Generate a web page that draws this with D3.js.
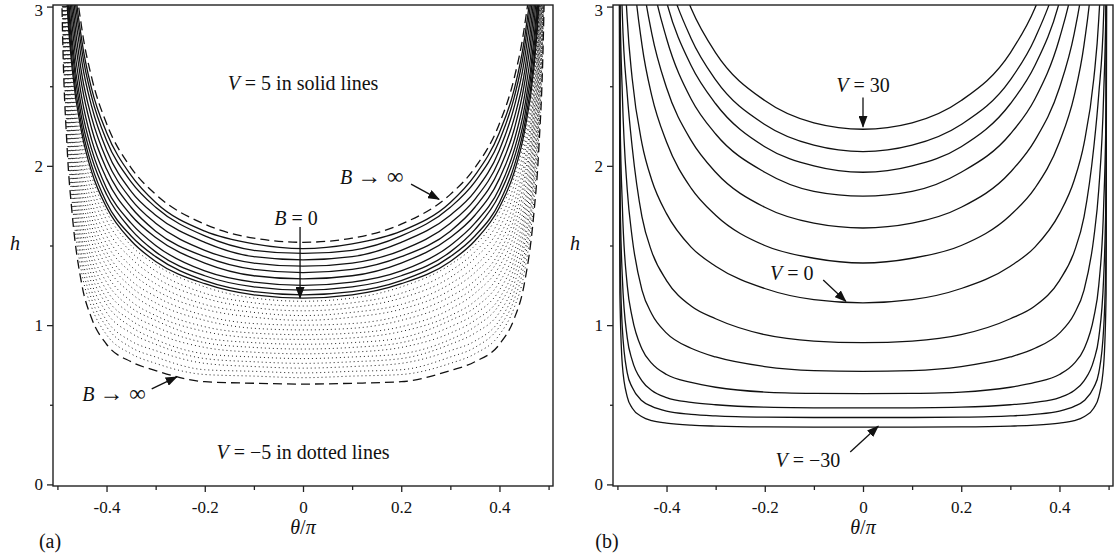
<!DOCTYPE html>
<html>
<head>
<meta charset="utf-8">
<script src="https://cdn.jsdelivr.net/npm/d3@7"></script>
<style>
  body { margin: 0; background: #fff; }
  svg text { fill: #111; }
</style>
</head>
<body>
<svg id="chart" width="1120" height="560"></svg>
<script>
// half grid in theta/pi, curves are symmetric about 0
const THETA = [0, 0.1, 0.2, 0.3, 0.35, 0.4, 0.43, 0.45, 0.47, 0.48, 0.49, 0.495, 0.5]

// (a) V = 5, B -> infinity (dashed)
const A_DASHED_UP = [1.52, 1.546, 1.634, 1.821, 1.988, 2.266, 2.551, 2.856, 3.396, 3.9, 4.93, 6.24, 8]
// (a) V = 5, solid lines
const A_SOLID = [
  [1.48, 1.51, 1.59, 1.77, 1.94, 2.21, 2.48, 2.78, 3.31, 3.79, 4.80, 6.08, 8],
  [1.45, 1.47, 1.56, 1.74, 1.90, 2.16, 2.43, 2.72, 3.24, 3.72, 4.70, 5.95, 8],
  [1.41, 1.43, 1.52, 1.69, 1.84, 2.10, 2.37, 2.65, 3.15, 3.61, 4.57, 5.79, 8],
  [1.37, 1.39, 1.47, 1.64, 1.79, 2.04, 2.30, 2.57, 3.06, 3.51, 4.44, 5.63, 8],
  [1.33, 1.35, 1.43, 1.59, 1.74, 1.98, 2.23, 2.50, 2.97, 3.41, 4.31, 5.46, 8],
  [1.29, 1.31, 1.39, 1.55, 1.69, 1.92, 2.16, 2.42, 2.88, 3.31, 4.18, 5.30, 8],
  [1.25, 1.27, 1.34, 1.50, 1.64, 1.86, 2.10, 2.35, 2.79, 3.20, 4.06, 5.13, 8],
  [1.22, 1.24, 1.31, 1.46, 1.60, 1.82, 2.05, 2.29, 2.73, 3.13, 3.96, 5.01, 8],
  [1.19, 1.21, 1.28, 1.43, 1.56, 1.77, 2.00, 2.24, 2.66, 3.05, 3.86, 4.89, 8],
  [1.17, 1.19, 1.26, 1.40, 1.53, 1.74, 1.96, 2.20, 2.61, 3.00, 3.80, 4.80, 8]
]
// (a) V = -5, dotted lines
const A_DOTTED = [
  [1.15, 1.17, 1.24, 1.38, 1.50, 1.71, 1.93, 2.16, 2.57, 2.95, 3.73, 4.72, 8],
  [1.12, 1.14, 1.20, 1.34, 1.46, 1.66, 1.88, 2.11, 2.53, 2.92, 3.72, 4.72, 8],
  [1.09, 1.11, 1.17, 1.30, 1.42, 1.61, 1.83, 2.06, 2.49, 2.89, 3.71, 4.72, 8],
  [1.06, 1.08, 1.13, 1.26, 1.37, 1.56, 1.77, 2.01, 2.45, 2.86, 3.69, 4.71, 8],
  [1.03, 1.05, 1.10, 1.22, 1.33, 1.51, 1.72, 1.96, 2.41, 2.82, 3.67, 4.69, 8],
  [1.00, 1.01, 1.06, 1.18, 1.28, 1.46, 1.67, 1.91, 2.37, 2.79, 3.64, 4.66, 8],
  [0.97, 0.98, 1.03, 1.14, 1.24, 1.42, 1.62, 1.86, 2.32, 2.74, 3.60, 4.63, 8],
  [0.94, 0.95, 0.99, 1.10, 1.20, 1.37, 1.57, 1.81, 2.28, 2.70, 3.57, 4.59, 8],
  [0.91, 0.92, 0.96, 1.06, 1.15, 1.32, 1.52, 1.75, 2.23, 2.66, 3.52, 4.55, 8],
  [0.88, 0.89, 0.92, 1.03, 1.11, 1.27, 1.46, 1.70, 2.18, 2.61, 3.48, 4.49, 8],
  [0.85, 0.86, 0.89, 0.99, 1.07, 1.22, 1.41, 1.65, 2.13, 2.56, 3.42, 4.43, 8],
  [0.82, 0.83, 0.86, 0.95, 1.03, 1.17, 1.36, 1.60, 2.07, 2.50, 3.37, 4.37, 8],
  [0.79, 0.80, 0.82, 0.91, 0.99, 1.13, 1.31, 1.54, 2.02, 2.45, 3.31, 4.30, 8],
  [0.76, 0.77, 0.79, 0.88, 0.95, 1.08, 1.26, 1.49, 1.96, 2.39, 3.24, 4.22, 8],
  [0.73, 0.74, 0.76, 0.84, 0.90, 1.03, 1.21, 1.43, 1.91, 2.33, 3.17, 4.13, 8],
  [0.70, 0.71, 0.72, 0.80, 0.86, 0.99, 1.16, 1.38, 1.85, 2.26, 3.09, 4.04, 8],
  [0.67, 0.68, 0.69, 0.76, 0.82, 0.94, 1.11, 1.32, 1.78, 2.19, 3.01, 3.94, 8]
]
// (a) V = -5, B -> infinity (dashed)
const A_DASHED_LOW = [0.63, 0.635, 0.645, 0.715, 0.77, 0.88, 1.04, 1.25, 1.70, 2.10, 2.90, 3.80, 8]

// (b) V = 30, 25, ..., -30
const B_V = [30, 25, 20, 15, 10, 5, 0, -5, -10, -15, -20, -25, -30]
const B_CURVES = [
  [2.23, 2.27, 2.41, 2.71, 2.99, 3.44, 3.92, 4.43, 5.35, 6.2, 8, 10, 12],
  [2.09, 2.13, 2.26, 2.54, 2.80, 3.23, 3.67, 4.15, 5.01, 5.82, 7.52, 9.7, 12],
  [1.96, 2.00, 2.12, 2.39, 2.63, 3.03, 3.44, 3.89, 4.70, 5.46, 7.05, 9.1, 12],
  [1.81, 1.84, 1.96, 2.20, 2.42, 2.80, 3.18, 3.60, 4.34, 5.04, 6.51, 8.4, 12],
  [1.61, 1.64, 1.74, 1.96, 2.16, 2.49, 2.83, 3.20, 3.86, 4.48, 5.79, 7.5, 12],
  [1.39, 1.42, 1.50, 1.69, 1.86, 2.15, 2.44, 2.76, 3.33, 3.87, 5.00, 6.46, 12],
  [1.14, 1.16, 1.23, 1.37, 1.49, 1.70, 1.91, 2.14, 2.55, 2.92, 3.70, 4.68, 12],
  [0.89, 0.90, 0.94, 1.04, 1.12, 1.28, 1.46, 1.68, 2.12, 2.45, 2.95, 3.6, 12],
  [0.71, 0.715, 0.74, 0.80, 0.855, 0.95, 1.07, 1.22, 1.55, 1.85, 2.45, 3.1, 12],
  [0.57, 0.572, 0.58, 0.61, 0.64, 0.69, 0.76, 0.85, 1.05, 1.25, 1.75, 2.4, 12],
  [0.48, 0.481, 0.485, 0.50, 0.515, 0.545, 0.59, 0.65, 0.78, 0.92, 1.30, 1.9, 12],
  [0.42, 0.42, 0.422, 0.43, 0.44, 0.46, 0.49, 0.525, 0.61, 0.70, 0.98, 1.5, 12],
  [0.36, 0.36, 0.361, 0.366, 0.372, 0.385, 0.40, 0.425, 0.48, 0.55, 0.75, 1.2, 12]
]

const X_MAJOR = [-0.4, -0.2, 0, 0.2, 0.4]
const X_MINOR = [-0.5, -0.3, -0.1, 0.1, 0.3, 0.5]
const Y_MAJOR = [0, 1, 2, 3]
const Y_MINOR = [0.5, 1.5, 2.5]

// annotations, anchors in (theta/pi, h); parts are [text, italic, size]
const TO_INF = [['B', 1], [' ', 0], ['\u2192', 0, 24], [' \u221e', 0, 23]]
const A_NOTES = [
  {pos: [0, 2.52], parts: [['V', 1], [' = 5 in solid lines', 0]]},
  {pos: [0, 0.205], parts: [['V', 1], [' = \u22125 in dotted lines', 0]]},
  {pos: [0.14, 1.93], parts: TO_INF},
  {pos: [-0.014, 1.67], parts: [['B', 1], [' = 0', 0]]},
  {pos: [-0.385, 0.568], parts: TO_INF}
]
const A_ARROWS = [
  [[0.22, 1.885], [0.277, 1.79]],
  [[-0.006, 1.616], [-0.006, 1.17]],
  [[-0.308, 0.60], [-0.257, 0.675]]
]
const B_NOTES = [
  {pos: [0, 2.51], parts: [['V', 1], [' = 30', 0]]},
  {pos: [-0.145, 1.327], parts: [['V', 1], [' = 0', 0]]},
  {pos: [-0.112, 0.153], parts: [['V', 1], [' = \u221230', 0]]}
]
const B_ARROWS = [
  [[0, 2.43], [0, 2.245]],
  [[-0.081, 1.283], [-0.035, 1.15]],
  [[-0.026, 0.204], [0.031, 0.365]]
]

const svg = d3.select('#chart')
const TOP = 5
const BOTTOM = 486
const SERIF = 'Liberation Serif'

svg.append('defs').append('marker')
  .attr('id', 'head')
  .attr('markerUnits', 'userSpaceOnUse')
  .attr('markerWidth', 12).attr('markerHeight', 9)
  .attr('refX', 11).attr('refY', 4.5)
  .attr('orient', 'auto')
  .append('path').attr('d', 'M0,0 L12,4.5 L0,9 Z').attr('fill', '#111')

// mirror the half curve to the full range
function fullCurve(hs) {
  var pts = []
  for (var i = THETA.length - 1; i > 0; i--) pts.push([-THETA[i], hs[i]])
  THETA.forEach((t, i) => pts.push([t, hs[i]]))
  return pts
}

function label(sel, x, y, size) {
  return sel.append('text').attr('x', x).attr('y', y)
    .attr('text-anchor', 'middle').attr('font-family', SERIF).attr('font-size', size)
}

function panel(id, left, tag) {
  var right = left + 500
  var x = d3.scaleLinear().domain([-0.509, 0.509]).range([left, right])
  var y = d3.scaleLinear().domain([-0.01, 3.01]).range([BOTTOM, TOP])
  var g = svg.append('g')

  g.append('clipPath').attr('id', 'clip-' + id)
    .append('rect').attr('x', left).attr('y', TOP).attr('width', right - left).attr('height', BOTTOM - TOP)

  var plot = g.append('g').attr('clip-path', `url(#clip-${id})`)
  var line = d3.line().x(d => x(d[0])).y(d => y(d[1])).curve(d3.curveMonotoneX)

  // axes
  var xAxis = d3.axisBottom(x).tickValues(X_MAJOR).tickSize(6).tickSizeOuter(0).tickPadding(9)
    .tickFormat(d => d === 0 ? '0' : d3.format('.1f')(d).replace('\u2212', '-'))
  var xMinor = d3.axisBottom(x).tickValues(X_MINOR).tickSize(4).tickSizeOuter(0).tickFormat('')
  var yAxis = d3.axisLeft(y).tickValues(Y_MAJOR).tickSize(6).tickSizeOuter(0).tickPadding(4).tickFormat(d3.format('d'))
  var yMinor = d3.axisLeft(y).tickValues(Y_MINOR).tickSize(3).tickSizeOuter(0).tickFormat('')

  ;[[xAxis, `translate(0,${BOTTOM})`], [xMinor, `translate(0,${BOTTOM})`],
    [yAxis, `translate(${left},0)`], [yMinor, `translate(${left},0)`]].forEach(([ax, tr]) => {
    var a = g.append('g').attr('transform', tr).call(ax)
    a.attr('font-family', SERIF).attr('font-size', 17)
    a.selectAll('text').attr('fill', '#111')
    a.selectAll('line').attr('stroke', '#222').attr('stroke-width', 1.3)
    a.select('.domain').remove()
  })
  // keep the top label inside the page
  g.selectAll('.tick text').filter(d => d === 3).attr('dy', '0.55em')

  g.append('rect')
    .attr('x', left).attr('y', TOP).attr('width', right - left).attr('height', BOTTOM - TOP)
    .attr('fill', 'none').attr('stroke', '#222').attr('stroke-width', 1.4)

  label(g, left - 38, y(1.5), 20).attr('dy', '0.2em').attr('font-style', 'italic').text('h')

  var xl = label(g, x(0), 534, 20)
  xl.append('tspan').attr('font-style', 'italic').text('\u03b8')
  xl.append('tspan').text('/')
  xl.append('tspan').attr('font-style', 'italic').text('\u03c0')

  label(g, tag.x, 548, 20).text(tag.text)

  return {plot, line, x, y, g}
}

function notes(p, list, arrows) {
  list.forEach(n => {
    var t = label(p.g, p.x(n.pos[0]), p.y(n.pos[1]), 20).attr('dy', '0.35em')
    n.parts.forEach(([s, it, size]) => {
      var ts = t.append('tspan').attr('font-style', it ? 'italic' : 'normal').text(s)
      if (size) ts.attr('font-size', size)
    })
  })
  arrows.forEach(([a, b]) => {
    p.g.append('line')
      .attr('x1', p.x(a[0])).attr('y1', p.y(a[1]))
      .attr('x2', p.x(b[0])).attr('y2', p.y(b[1]))
      .attr('stroke', '#111').attr('stroke-width', 1.3)
      .attr('marker-end', 'url(#head)')
  })
}

// panel (a)
var pa = panel('a', 53, {x: 50, text: '(a)'})
A_DOTTED.forEach(hs => {
  pa.plot.append('path').datum(fullCurve(hs)).attr('d', pa.line)
    .attr('fill', 'none').attr('stroke', '#222').attr('stroke-width', 1).attr('stroke-dasharray', '1,3')
})
A_SOLID.forEach(hs => {
  pa.plot.append('path').datum(fullCurve(hs)).attr('d', pa.line)
    .attr('fill', 'none').attr('stroke', '#111').attr('stroke-width', 1.3)
})
;[A_DASHED_UP, A_DASHED_LOW].forEach(hs => {
  pa.plot.append('path').datum(fullCurve(hs)).attr('d', pa.line)
    .attr('fill', 'none').attr('stroke', '#111').attr('stroke-width', 1.3).attr('stroke-dasharray', '9,5')
})
notes(pa, A_NOTES, A_ARROWS)

// panel (b)
var pb = panel('b', 613, {x: 607, text: '(b)'})
B_CURVES.forEach(hs => {
  pb.plot.append('path').datum(fullCurve(hs)).attr('d', pb.line)
    .attr('fill', 'none').attr('stroke', '#111').attr('stroke-width', 1.3)
})
notes(pb, B_NOTES, B_ARROWS)
</script>
</body>
</html>
